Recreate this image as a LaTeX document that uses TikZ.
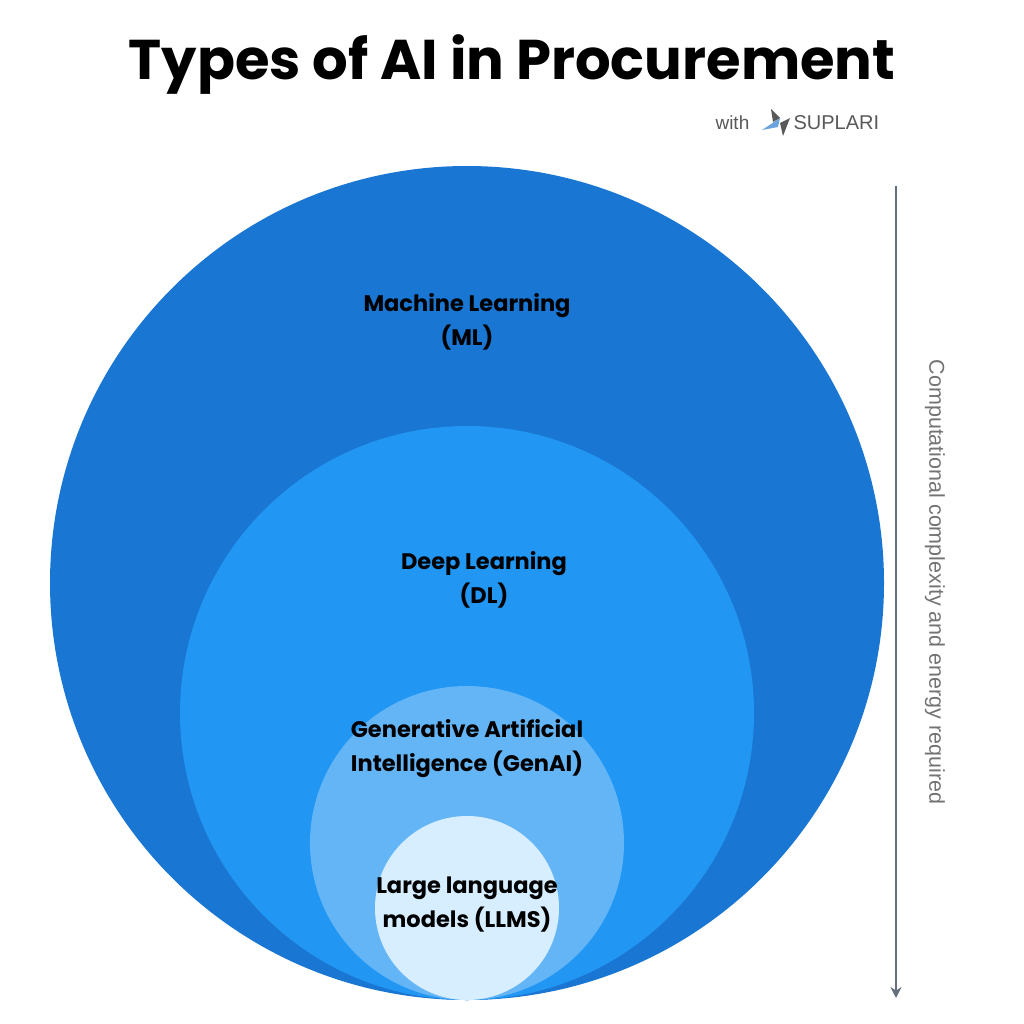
\documentclass[tikz,border=0pt]{standalone}
\usepackage{fontspec}
\usetikzlibrary{arrows.meta}
\setmainfont{Poppins}
\newfontfamily\lib{Liberation Sans}
\begin{document}
\begin{tikzpicture}[x=1pt,y=-1pt,
 lbl/.style={font=\fontsize{22.5}{34}\selectfont\bfseries,align=center,text=black}]
\useasboundingbox (0,0) rectangle (1024,1024);
\fill[white] (0,0) rectangle (1024,1024);
\node[font=\fontsize{56}{60}\selectfont\bfseries] (title) at (512,65) {Types of AI in Procurement};
\node[font=\lib\fontsize{19}{20}\selectfont,text=gray!70!black,anchor=west] (with) at (712,123) {with};
\fill[cyan!60!blue!60] (762,130) -- (780,118) -- (778,127) -- cycle;
\fill[gray!70!black] (771,109) -- (780,118) -- (773,122) -- cycle;
\fill[gray!70!black] (780,123) -- (790,118) -- (783,136) -- cycle;
\node[font=\lib\fontsize{20}{20}\selectfont,text=gray!70!black,anchor=west] (sup) at (790,123) {SUPLARI};
\fill[fill={rgb,255:red,25;green,118;blue,210}] (467,583) circle (417);
\fill[fill={rgb,255:red,33;green,150;blue,243}] (467,713) circle (287);
\fill[fill={rgb,255:red,100;green,181;blue,246}] (467,843) circle (157);
\fill[fill={rgb,255:red,214;green,238;blue,255}] (467,908) circle (92);
\node[lbl] (l1) at (467,322) {Machine Learning\\(ML)};
\node[lbl] (l2) at (484,580) {Deep Learning\\(DL)};
\node[lbl] (l3) at (467,749) {Generative Artificial\\Intelligence (GenAI)};
\node[lbl] (l4) at (467,905) {Large language\\models (LLMS)};
\coordinate (a1) at (896,186);
\coordinate (a2) at (896,998);
\draw[line width=2.5pt,draw={rgb,255:red,100;green,110;blue,125},-{Stealth[length=11pt,width=11pt]}] (a1) -- (a2);
\node[font=\lib\fontsize{21.5}{24}\selectfont,text=gray!90!black,rotate=-90] (side) at (935,582) {Computational complexity and energy required};
\end{tikzpicture}
\end{document}
